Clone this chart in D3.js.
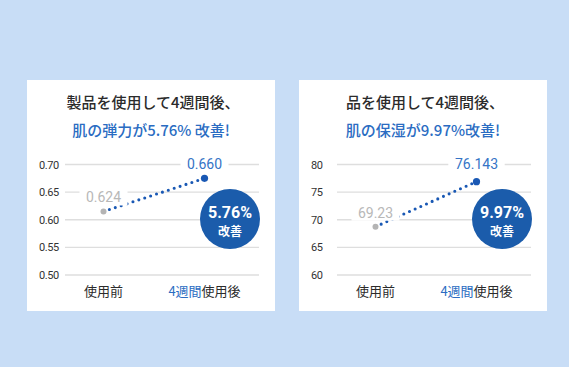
<!DOCTYPE html>
<html>
<head>
<meta charset="utf-8">
<script src="https://cdn.jsdelivr.net/npm/d3@7"></script>
<style>
    body { margin: 0; background: #c8ddf6; }
    svg { display: block; font-family: "Noto Sans CJK JP", "Noto Sans", sans-serif; }
    .grid line { stroke: #dedede; stroke-width: 1.3; }
    .y.axis text { fill: #333; font-size: 11px; font-family: Roboto, "Noto Sans", sans-serif; letter-spacing: -0.4px; }
</style>
</head>
<body>
<div class="chart"></div>
<script>
var categories = ["使用前", "4週間使用後"];
var categoryHighlight = ["", "4週間"];

var elasticityTitle = ["製品を使用して4週間後、", "肌の弾力が5.76% 改善!"];
var elasticityPoints = [0.615, 0.675];
var elasticityLabels = ["0.624", "0.660"];
var elasticityTicks = [0.50, 0.55, 0.60, 0.65, 0.70];
var elasticityBadge = "5.76%";

var moistureTitle = ["品を使用して4週間後、", "肌の保湿が9.97%改善!"];
var moisturePoints = [68.75, 76.9];
var moistureLabels = ["69.23", "76.143"];
var moistureTicks = [60, 65, 70, 75, 80];
var moistureBadge = "9.97%";

var badgeText = "改善";

var width = 569, height = 367;
var blue = "#2a6cc2";
var dotBlue = "#1958b4";

var svg = d3.select(".chart").append("svg")
    .attr("width", width)
    .attr("height", height);

svg.append("rect")
    .attr("width", width)
    .attr("height", height)
    .attr("fill", "#c8ddf6");

drawPanel(27, elasticityTitle, elasticityPoints, elasticityLabels, elasticityTicks, d3.format(".2f"), elasticityBadge);
drawPanel(299, moistureTitle, moisturePoints, moistureLabels, moistureTicks, d3.format("d"), moistureBadge);

function drawPanel(left, title, points, labels, ticks, fmt, badge) {
    var panelW = 248, panelH = 231;

    var g = svg.append("g")
        .attr("transform", "translate(" + left + ",80)");

    g.append("rect")
        .attr("width", panelW)
        .attr("height", panelH)
        .attr("fill", "#fff");

    // title
    g.append("text")
        .attr("x", panelW / 2 + 2)
        .attr("y", 28)
        .attr("text-anchor", "middle")
        .attr("fill", "#2b2b2b")
        .style("font-size", "15px")
        .style("font-weight", "500")
        .text(title[0]);

    g.append("text")
        .attr("x", panelW / 2)
        .attr("y", 56)
        .attr("text-anchor", "middle")
        .attr("fill", blue)
        .style("font-size", "15px")
        .style("font-weight", "500")
        .text(title[1]);

    var yScale = d3.scaleLinear()
        .domain([ticks[0], ticks[ticks.length - 1]])
        .range([195, 84.5]);

    var xScale = d3.scalePoint()
        .domain(categories)
        .range([76.5, 177.5]);

    // gridlines
    g.append("g")
        .attr("class", "grid")
        .selectAll("line")
        .data(ticks)
        .enter().append("line")
        .attr("x1", 38)
        .attr("x2", 232)
        .attr("y1", function (d) { return yScale(d); })
        .attr("y2", function (d) { return yScale(d); });

    var yAxis = g.append("g")
        .attr("class", "y axis")
        .attr("transform", "translate(38,0)")
        .call(d3.axisLeft(yScale).tickValues(ticks).tickFormat(fmt).tickSize(0));
    yAxis.select(".domain").remove();
    yAxis.selectAll("text")
        .attr("text-anchor", "start")
        .attr("x", -26);

    // category labels
    var cat = g.selectAll(".cat")
        .data(categories)
        .enter().append("text")
        .attr("class", "cat")
        .attr("x", function (d) { return xScale(d); })
        .attr("y", 216)
        .attr("text-anchor", "middle")
        .style("font-size", "13px");
    cat.append("tspan")
        .attr("fill", blue)
        .text(function (d, i) { return categoryHighlight[i]; });
    cat.append("tspan")
        .attr("fill", "#2b2b2b")
        .text(function (d, i) { return d.slice(categoryHighlight[i].length); });

    // badge circle
    g.append("circle")
        .attr("cx", 203)
        .attr("cy", 139)
        .attr("r", 30)
        .attr("fill", "#1b5cab");

    g.append("text")
        .attr("x", 203)
        .attr("y", 138)
        .attr("text-anchor", "middle")
        .attr("fill", "#fff")
        .style("font-size", "16px")
        .style("font-weight", "bold")
        .style("font-family", "Roboto, 'Noto Sans', sans-serif")
        .text(badge);

    g.append("text")
        .attr("x", 203)
        .attr("y", 156)
        .attr("text-anchor", "middle")
        .attr("fill", "#fff")
        .style("font-size", "12px")
        .style("font-weight", "bold")
        .text(badgeText);

    var pts = categories.map(function (c, i) {
        return { x: xScale(c), y: yScale(points[i]), label: labels[i], i: i };
    });

    var line = d3.line()
        .x(function (d) { return d.x; })
        .y(function (d) { return d.y; });

    g.append("path")
        .datum(pts)
        .attr("d", line)
        .attr("fill", "none")
        .attr("stroke", dotBlue)
        .attr("stroke-width", 3.1)
        .attr("stroke-linecap", "round")
        .attr("stroke-dasharray", "0 6.2");

    g.selectAll(".pt")
        .data(pts)
        .enter().append("circle")
        .attr("class", "pt")
        .attr("cx", function (d) { return d.x; })
        .attr("cy", function (d) { return d.y; })
        .attr("r", function (d) { return d.i == 0 ? 3 : 3.6; })
        .attr("fill", function (d) { return d.i == 0 ? "#b4b4b4" : dotBlue; });

    // value labels with white box behind
    var lab = g.selectAll(".lab")
        .data(pts)
        .enter().append("g")
        .attr("class", "lab")
        .attr("transform", function (d) {
            var ly = d.i == 0 ? d.y - 14 : 84.5;
            return "translate(" + d.x + "," + ly + ")";
        });

    lab.append("rect")
        .attr("x", function (d) { return -d.label.length * 4.2 - 3; })
        .attr("y", -8)
        .attr("width", function (d) { return d.label.length * 8.4 + 6; })
        .attr("height", 16)
        .attr("fill", "#fff");

    lab.append("text")
        .attr("text-anchor", "middle")
        .attr("dy", "0.35em")
        .attr("fill", function (d) { return d.i == 0 ? "#b8b8b8" : "#3574c6"; })
        .style("font-size", "14px")
        .style("font-family", "Roboto, 'Noto Sans', sans-serif")
        .text(function (d) { return d.label; });
}
</script>
</body>
</html>
